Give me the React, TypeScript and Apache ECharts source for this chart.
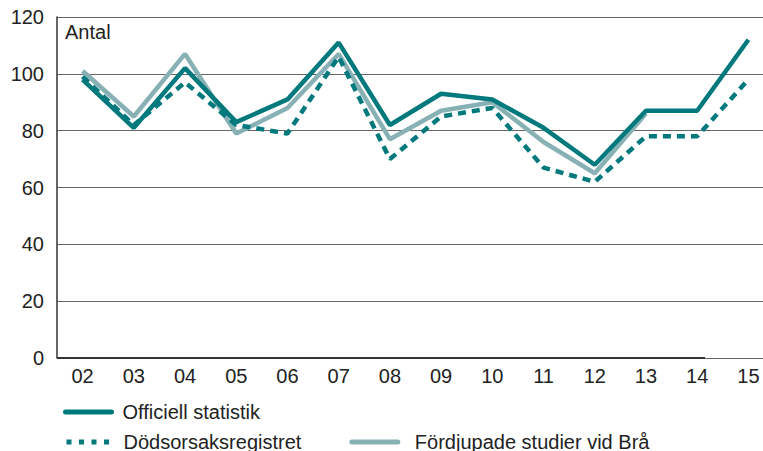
import React, { useEffect, useRef } from "react";
import * as echarts from "echarts";

const categories = ["02", "03", "04", "05", "06", "07", "08", "09", "10", "11", "12", "13", "14", "15"];
const officiell = [98, 81, 102, 83, 91, 111, 82, 93, 91, 81, 68, 87, 87, 112];
const dodsorsak = [99, 82, 97, 82, 79, 106, 70, 85, 88, 67, 62, 78, 78, 98];
const fordjupade: (number | null)[] = [101, 85, 107, 79, 88, 107, 77, 87, 90, 76, 65, 86, null, null];

const DARK = "#00797d";
const LIGHT = "#87b1b5";
const FONT = "Liberation Sans";
const TXT = "#222";

export default function App() {
  const ref = useRef<HTMLDivElement>(null);
  useEffect(() => {
    if (!ref.current) return;
    const chart = echarts.init(ref.current, null, { renderer: "svg" });
    chart.setOption({
      animation: false,
      textStyle: { fontFamily: FONT },
      grid: { left: 57, top: 17, height: 341, width: 717, containLabel: false, outerBoundsMode: "none" },
      xAxis: {
        type: "category",
        data: categories,
        boundaryGap: true,
        axisLine: { show: false },
        axisTick: { show: false },
        axisLabel: { color: TXT, fontSize: 20, margin: 8, fontFamily: FONT },
      },
      yAxis: {
        type: "value",
        min: 0,
        max: 120,
        interval: 20,
        axisLine: { show: true, lineStyle: { color: "#333", width: 1.5 } },
        axisTick: { show: false },
        axisLabel: { color: TXT, fontSize: 20, margin: 13, fontFamily: FONT },
        splitLine: { show: true, lineStyle: { color: "#666", width: 1 } },
      },
      legend: [
        {
          data: [{ name: "Officiell statistik", lineStyle: { width: 5, cap: "round" } }],
          left: 58,
          top: 397,
          itemWidth: 46,
          itemHeight: 10,
          itemGap: 20,
          itemStyle: { opacity: 0 },
          textStyle: { fontSize: 20, color: TXT, fontFamily: FONT, padding: [0, 0, 0, 6] },
        },
        {
          data: [
            {
              name: "Dödsorsaksregistret",
              lineStyle: { width: 5, type: [5, 7.5], cap: "butt" },
              textStyle: { padding: [0, 0, 0, 6] },
            },
            {
              name: "Fördjupade studier vid Brå",
              lineStyle: { width: 5, cap: "round" },
              textStyle: { padding: [0, 0, 0, 12] },
            },
          ],
          left: 59,
          top: 427,
          itemWidth: 46,
          itemHeight: 10,
          itemGap: 48,
          itemStyle: { opacity: 0 },
          textStyle: { fontSize: 20, color: TXT, fontFamily: FONT },
        },
      ],
      graphic: [
        {
          type: "text",
          left: 65,
          top: 22,
          style: { text: "Antal", fontSize: 20, fill: TXT, fontFamily: FONT },
        },
        {
          type: "line",
          shape: { x1: 57, y1: 358, x2: 705, y2: 358 },
          style: { stroke: "#333", lineWidth: 2 },
          z: 10,
        },
      ],
      series: [
        {
          name: "Fördjupade studier vid Brå",
          type: "line",
          data: fordjupade,
          symbol: "none",
          connectNulls: false,
          lineStyle: { color: LIGHT, width: 4.5 },
          itemStyle: { color: LIGHT },
          z: 2,
        },
        {
          name: "Dödsorsaksregistret",
          type: "line",
          data: dodsorsak,
          symbol: "none",
          lineStyle: { color: DARK, width: 4.5, type: [8, 6] },
          itemStyle: { color: DARK },
          z: 3,
        },
        {
          name: "Officiell statistik",
          type: "line",
          data: officiell,
          symbol: "none",
          lineStyle: { color: DARK, width: 4.5 },
          itemStyle: { color: DARK },
          z: 4,
        },
      ],
    });
    return () => chart.dispose();
  }, []);
  return <div ref={ref} style={{ width: 763, height: 451, position: "absolute", left: 0, top: 0 }} />;
}
